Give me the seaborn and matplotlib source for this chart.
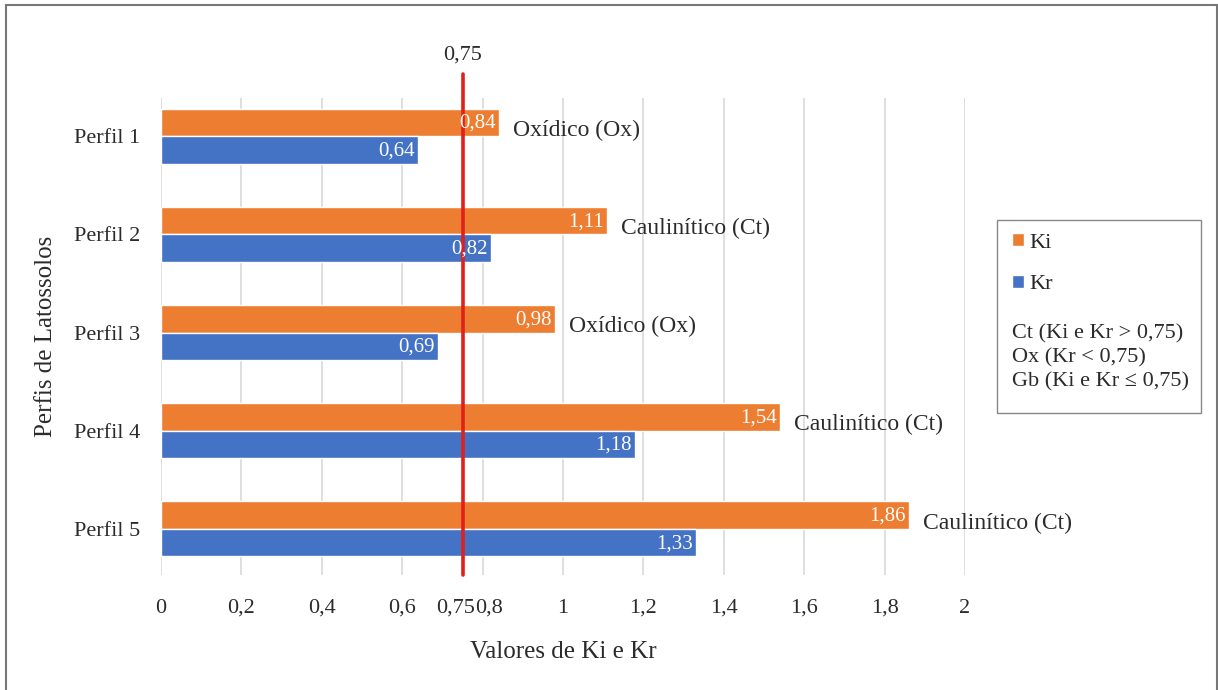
import matplotlib
matplotlib.use("Agg")
import matplotlib.pyplot as plt
from matplotlib.patches import Rectangle, Patch
from matplotlib.transforms import ScaledTranslation
import seaborn as sns
import pandas as pd

# Data
perfis = ["Perfil 1", "Perfil 2", "Perfil 3", "Perfil 4", "Perfil 5"]
ki = [0.84, 1.11, 0.98, 1.54, 1.86]
kr = [0.64, 0.82, 0.69, 1.18, 1.33]
classes = ["Oxídico (Ox)", "Caulinítico (Ct)", "Oxídico (Ox)",
           "Caulinítico (Ct)", "Caulinítico (Ct)"]
limite = 0.75
xticks = [0, 0.2, 0.4, 0.6, 0.75, 0.8, 1, 1.2, 1.4, 1.6, 1.8, 2]
xticklabels = ["0", "0,2", "0,4", "0,6", "0,75", "0,8", "1", "1,2",
               "1,4", "1,6", "1,8", "2"]
legenda_txt = ["Ct (Ki e Kr > 0,75)", "Ox (Kr < 0,75)", "Gb (Ki e Kr ≤ 0,75)"]

ORANGE = "#ED7D31"
BLUE = "#4472C4"
TXT = "#2b2b2b"

sns.set_theme(style="white")
plt.rcParams["font.family"] = ["Liberation Serif", "DejaVu Serif"]

df = pd.DataFrame({
    "Perfil": perfis * 2,
    "Valor": ki + kr,
    "Indice": ["Ki"] * len(perfis) + ["Kr"] * len(perfis),
})

fig = plt.figure(figsize=(12.18, 6.9), dpi=100)
ax = fig.add_axes([161 / 1218, 1 - 575 / 690, (965 - 161) / 1218, (575 - 98) / 690])

sns.barplot(data=df, y="Perfil", x="Valor", hue="Indice", order=perfis,
            hue_order=["Ki", "Kr"], palette=[ORANGE, BLUE], orient="h",
            width=0.56, saturation=1, ax=ax, legend=False)

ax.set_xlim(0, 2.0)
ax.set_ylim(4.47, -0.39)

# vertical gridlines
for t in xticks:
    if t != limite:
        ax.axvline(t, color="#d9d9d9", lw=1.2, zorder=0)

# threshold line
ax.axvline(limite, ymin=0, ymax=1.05, color="#e0201b", lw=2.6, zorder=5, clip_on=False)
ax.text(limite, 1.09, "0,75", transform=ax.get_xaxis_transform(),
        ha="center", va="center", fontsize=16, color=TXT)

for s in ax.spines.values():
    s.set_visible(False)
ax.tick_params(axis="both", length=0, colors=TXT)
ax.set_xticks(xticks)
ax.set_xticklabels(xticklabels, fontsize=16)
ax.set_yticks(range(len(perfis)))
ax.set_yticklabels(perfis, fontsize=16)
ax.tick_params(axis="x", pad=17)
ax.tick_params(axis="y", pad=15)
ax.set_xlabel("Valores de Ki e Kr", fontsize=18, color=TXT, labelpad=17)
ax.set_ylabel("Perfis de Latossolos", fontsize=18, color=TXT, labelpad=12)

# keep the crowded 0,75 / 0,8 labels apart
for lab in ax.get_xticklabels():
    if lab.get_text() == "0,75":
        lab.set_transform(lab.get_transform() + ScaledTranslation(-0.07, 0, fig.dpi_scale_trans))
    elif lab.get_text() == "0,8":
        lab.set_transform(lab.get_transform() + ScaledTranslation(0.06, 0, fig.dpi_scale_trans))

# value labels inside bars and class labels after the Ki bars
off = 0.14
for i, (a, b, c) in enumerate(zip(ki, kr, classes)):
    ax.text(a - 0.008, i - off + 0.01, f"{a:.2f}".replace(".", ","), ha="right",
            va="center", color="white", fontsize=15, zorder=6)
    ax.text(b - 0.008, i + off + 0.01, f"{b:.2f}".replace(".", ","), ha="right",
            va="center", color="white", fontsize=15, zorder=6)
    ax.text(a + 0.035, i - 0.06, c, ha="left", va="center",
            color=TXT, fontsize=17)

# legend box
x0, x1 = 997 / 1218, 1201 / 1218
y0, y1 = 1 - 413 / 690, 1 - 220 / 690
fig.patches.append(Rectangle((x0, y0), x1 - x0, y1 - y0, transform=fig.transFigure,
                             fill=False, edgecolor="#888888", lw=1.0))
handles = [Patch(facecolor=ORANGE), Patch(facecolor=BLUE)]
fig.legend(handles, ["Ki", "Kr"], loc="upper left",
           bbox_to_anchor=(1012 / 1218, 1 - 233 / 690), frameon=False,
           fontsize=16, handlelength=0.55, handleheight=0.55, handletextpad=0.25,
           labelspacing=1.0, borderaxespad=0, borderpad=0)
for k, t in enumerate(legenda_txt):
    fig.text(1012 / 1218, 1 - (334 + 24 * k) / 690, t, ha="left", va="center",
             fontsize=16, color=TXT)

# outer frame
fig.patches.append(Rectangle((6 / 1218, -0.01), (1217 - 6) / 1218, 1 - 5 / 690 + 0.01,
                             transform=fig.transFigure, fill=False,
                             edgecolor="#777777", lw=1.5))

fig.savefig("out.png", dpi=100)
